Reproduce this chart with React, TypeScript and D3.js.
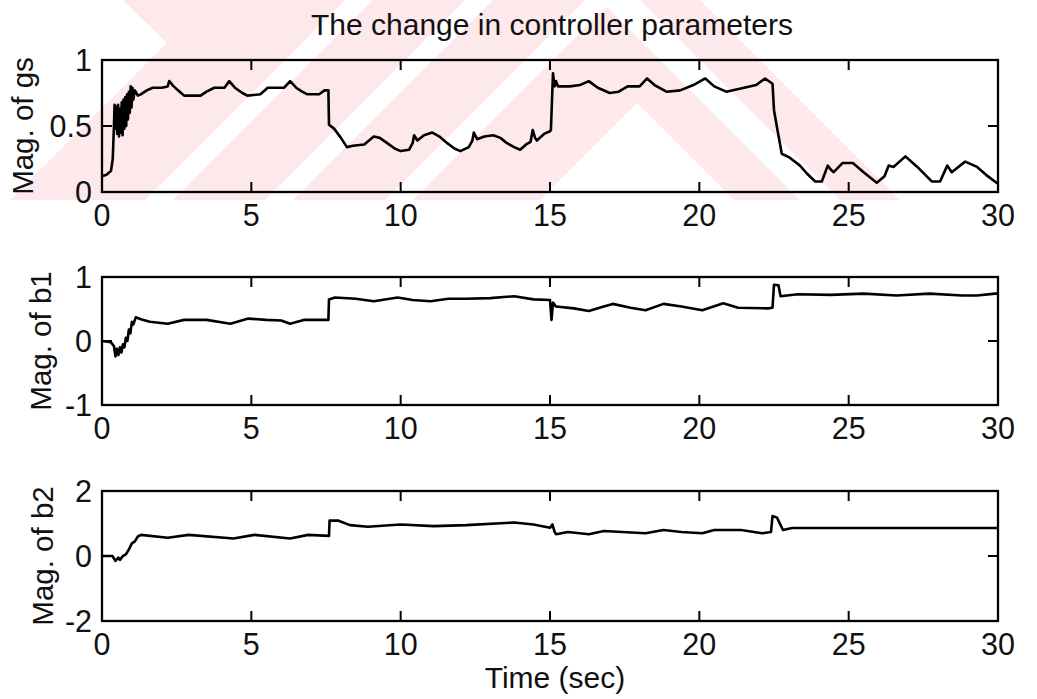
import React from 'react';
import * as d3 from 'd3';

const titleText = 'The change in controller parameters';
const xLabelText = 'Time (sec)';
const timeTicks = [0, 5, 10, 15, 20, 25, 30];
const gsTicks = [0, 0.5, 1];
const b1Ticks = [-1, 0, 1];
const b2Ticks = [-2, 0, 2];

const gsTime = [0, 0.15, 0.3, 0.36, 0.4, 0.42, 0.45, 0.48, 0.51, 0.54, 0.57, 0.6, 0.63, 0.66, 0.69, 0.72, 0.75, 0.78, 0.81, 0.84, 0.87, 0.9, 0.93, 0.96, 0.99, 1.02, 1.05, 1.1, 1.2, 1.3, 1.5, 1.7, 2.0, 2.2, 2.25, 2.4, 2.6, 2.75, 3.3, 3.5, 3.76, 4.1, 4.26, 4.45, 4.7, 4.87, 5.3, 5.55, 6.1, 6.3, 6.5, 6.7, 6.88, 7.27, 7.45, 7.58, 7.6, 7.77, 8.0, 8.2, 8.4, 8.78, 9.1, 9.3, 9.55, 9.8, 10.0, 10.28, 10.4, 10.45, 10.56, 10.78, 11.06, 11.3, 11.56, 11.8, 12.0, 12.28, 12.4, 12.45, 12.56, 12.8, 13.1, 13.34, 13.56, 13.8, 14.0, 14.2, 14.35, 14.42, 14.5, 14.56, 14.8, 15.0, 15.03, 15.1, 15.15, 15.2, 15.27, 15.67, 16.0, 16.3, 16.6, 17.0, 17.3, 17.6, 18.0, 18.25, 18.5, 18.9, 19.36, 19.8, 20.2, 20.5, 20.9, 21.5, 21.9, 22.2, 22.45, 22.5, 22.6, 22.76, 23.03, 23.37, 23.6, 23.88, 24.1, 24.3, 24.4, 24.5, 24.8, 25.14, 25.5, 25.94, 26.2, 26.34, 26.5, 26.9, 27.3, 27.78, 28.06, 28.3, 28.45, 28.9, 29.3, 29.6, 29.95, 30];
const gsValue = [0.12, 0.13, 0.16, 0.25, 0.5, 0.66, 0.48, 0.65, 0.44, 0.66, 0.42, 0.63, 0.45, 0.68, 0.43, 0.7, 0.48, 0.72, 0.5, 0.74, 0.55, 0.76, 0.6, 0.8, 0.64, 0.79, 0.7, 0.77, 0.73, 0.74, 0.77, 0.79, 0.79, 0.8, 0.84, 0.8, 0.76, 0.73, 0.73, 0.76, 0.79, 0.79, 0.84, 0.79, 0.75, 0.73, 0.74, 0.79, 0.79, 0.84, 0.79, 0.76, 0.74, 0.74, 0.77, 0.77, 0.51, 0.48, 0.41, 0.34, 0.35, 0.36, 0.42, 0.41, 0.37, 0.33, 0.31, 0.32, 0.37, 0.43, 0.39, 0.43, 0.45, 0.42, 0.37, 0.33, 0.31, 0.34, 0.39, 0.45, 0.4, 0.42, 0.43, 0.41, 0.37, 0.34, 0.32, 0.36, 0.38, 0.47, 0.41, 0.39, 0.44, 0.46, 0.47, 0.9, 0.8, 0.84, 0.8, 0.8, 0.81, 0.84, 0.79, 0.75, 0.76, 0.8, 0.8, 0.86, 0.81, 0.76, 0.77, 0.81, 0.86, 0.8, 0.76, 0.79, 0.81, 0.86, 0.82, 0.62, 0.49, 0.29, 0.26, 0.2, 0.14, 0.08, 0.08, 0.2, 0.17, 0.15, 0.22, 0.22, 0.15, 0.07, 0.12, 0.2, 0.19, 0.27, 0.19, 0.08, 0.08, 0.2, 0.15, 0.23, 0.19, 0.13, 0.07, 0.07];

const b1Time = [0, 0.3, 0.4, 0.45, 0.5, 0.55, 0.6, 0.65, 0.7, 0.75, 0.8, 0.85, 0.9, 0.95, 1.0, 1.05, 1.13, 1.3, 1.6, 2.2, 2.75, 3.5, 4.3, 4.9, 5.5, 6.0, 6.3, 6.75, 7.58, 7.6, 7.8, 8.5, 9.1, 9.9, 10.4, 11.0, 11.6, 12.2, 13.0, 13.8, 14.45, 15.0, 15.05, 15.1, 15.2, 15.8, 16.3, 16.8, 17.1, 17.7, 18.2, 18.8, 19.4, 20.1, 20.8, 21.3, 22.3, 22.45, 22.5, 22.65, 22.72, 23.3, 24.4, 25.5, 26.6, 27.7, 28.8, 29.3, 29.9, 30];
const b1Value = [0, -0.02, -0.08, -0.24, -0.12, -0.22, -0.1, -0.18, -0.05, -0.1, 0.05, 0.0, 0.18, 0.12, 0.3, 0.26, 0.37, 0.34, 0.3, 0.27, 0.33, 0.33, 0.27, 0.35, 0.33, 0.32, 0.27, 0.33, 0.33, 0.65, 0.68, 0.66, 0.62, 0.68, 0.64, 0.62, 0.66, 0.66, 0.67, 0.7, 0.65, 0.64, 0.33, 0.6, 0.54, 0.51, 0.47, 0.54, 0.58, 0.52, 0.48, 0.58, 0.54, 0.48, 0.59, 0.52, 0.51, 0.52, 0.88, 0.87, 0.7, 0.73, 0.72, 0.74, 0.71, 0.74, 0.71, 0.71, 0.74, 0.74];

const b2Time = [0, 0.35, 0.45, 0.55, 0.6, 0.7, 0.8, 0.9, 1.0, 1.1, 1.2, 1.3, 2.2, 2.9, 4.4, 5.1, 6.3, 6.9, 7.6, 7.62, 7.9, 8.3, 8.9, 10.0, 11.1, 12.2, 13.8, 14.45, 15.0, 15.08, 15.15, 15.2, 15.6, 16.3, 16.8, 18.2, 18.8, 19.4, 20.1, 20.5, 21.4, 22.1, 22.4, 22.45, 22.6, 22.8, 23.1, 30];
const b2Value = [0, 0, -0.15, -0.05, -0.12, 0.0, 0.05, 0.2, 0.39, 0.45, 0.6, 0.65, 0.56, 0.65, 0.54, 0.65, 0.54, 0.65, 0.62, 1.09, 1.09, 0.95, 0.9, 0.97, 0.92, 0.95, 1.03, 0.97, 0.87, 0.97, 0.75, 0.67, 0.74, 0.67, 0.77, 0.7, 0.8, 0.74, 0.7, 0.8, 0.8, 0.7, 0.74, 1.23, 1.18, 0.8, 0.86, 0.86];

const FONT = '"Liberation Sans", Arial, Helvetica, sans-serif';
const W = 1037;
const H = 699;
const X0 = 102;
const X1 = 998;

type PanelProps = {
  top: number;
  bottom: number;
  domain: [number, number];
  ticks: number[];
  times: number[];
  values: number[];
  label: string;
  labelX: number;
};

function Panel({ top, bottom, domain, ticks, times, values, label, labelX }: PanelProps) {
  const x = d3.scaleLinear().domain([0, 30]).range([X0, X1]);
  const y = d3.scaleLinear().domain(domain).range([bottom, top]);
  const pts = times.map((t, i) => [t, values[i]] as [number, number]);
  const line = d3
    .line<[number, number]>()
    .x((d) => x(d[0]))
    .y((d) => y(d[1]));
  const tl = 10;
  return (
    <g>
      <path d={line(pts) || ''} fill="none" stroke="#000" strokeWidth={2.6} strokeLinejoin="round" />
      <rect x={X0} y={top} width={X1 - X0} height={bottom - top} fill="none" stroke="#000" strokeWidth={2.3} />
      {timeTicks.map((t) => (
        <g key={'xt' + t}>
          <line x1={x(t)} x2={x(t)} y1={bottom} y2={bottom - tl} stroke="#000" strokeWidth={2} />
          <line x1={x(t)} x2={x(t)} y1={top} y2={top + tl} stroke="#000" strokeWidth={2} />
          <text x={x(t)} y={bottom + 34} textAnchor="middle" fontSize={30.5} fontFamily={FONT} fill="#111">
            {String(t)}
          </text>
        </g>
      ))}
      {ticks.map((v) => (
        <g key={'yt' + v}>
          <line x1={X0} x2={X0 + tl} y1={y(v)} y2={y(v)} stroke="#000" strokeWidth={2} />
          <line x1={X1} x2={X1 - tl} y1={y(v)} y2={y(v)} stroke="#000" strokeWidth={2} />
          <text x={X0 - 10} y={y(v)} dy="0.36em" textAnchor="end" fontSize={30.5} fontFamily={FONT} fill="#111">
            {String(v)}
          </text>
        </g>
      ))}
      <text
        transform={`translate(${labelX},${(top + bottom) / 2}) rotate(-90)`}
        textAnchor="middle"
        fontSize={29.5}
        fontFamily={FONT}
        fill="#111"
      >
        {label}
      </text>
    </g>
  );
}

export default function App() {
  const pink = '#fde8ec';
  const stripeStarts = [345, 465, 585];
  return (
    <svg width={W} height={H} style={{ position: 'absolute', left: 0, top: 0, background: '#fff' }}>
      <g>
        <rect x={0} y={0} width={W} height={200} fill={pink} />
        <polygon points="0,0 123,0 167,43 0,210" fill="#fff" />
        {stripeStarts.map((c) => (
          <polygon key={c} points={`${c},0 ${c + 28},0 ${c + 28 - 200},200 ${c - 200},200`} fill="#fff" />
        ))}
        <polygon points="637,103 734,200 540,200" fill="#fff" />
        <polygon points="600,0 640,0 840,200 800,200" fill="#fff" />
        <polygon points="700,0 1037,0 1037,200 900,200" fill="#fff" />
      </g>
      <text x={552} y={35} textAnchor="middle" fontSize={30} fontFamily={FONT} fill="#111">
        {titleText}
      </text>
      <Panel top={60} bottom={192} domain={[0, 1]} ticks={gsTicks} times={gsTime} values={gsValue} label="Mag. of gs" labelX={33} />
      <Panel top={277} bottom={405} domain={[-1, 1]} ticks={b1Ticks} times={b1Time} values={b1Value} label="Mag. of b1" labelX={51} />
      <Panel top={491} bottom={621} domain={[-2, 2]} ticks={b2Ticks} times={b2Time} values={b2Value} label="Mag. of b2" labelX={53} />
      <text x={555} y={688} textAnchor="middle" fontSize={30} fontFamily={FONT} fill="#111">
        {xLabelText}
      </text>
    </svg>
  );
}
